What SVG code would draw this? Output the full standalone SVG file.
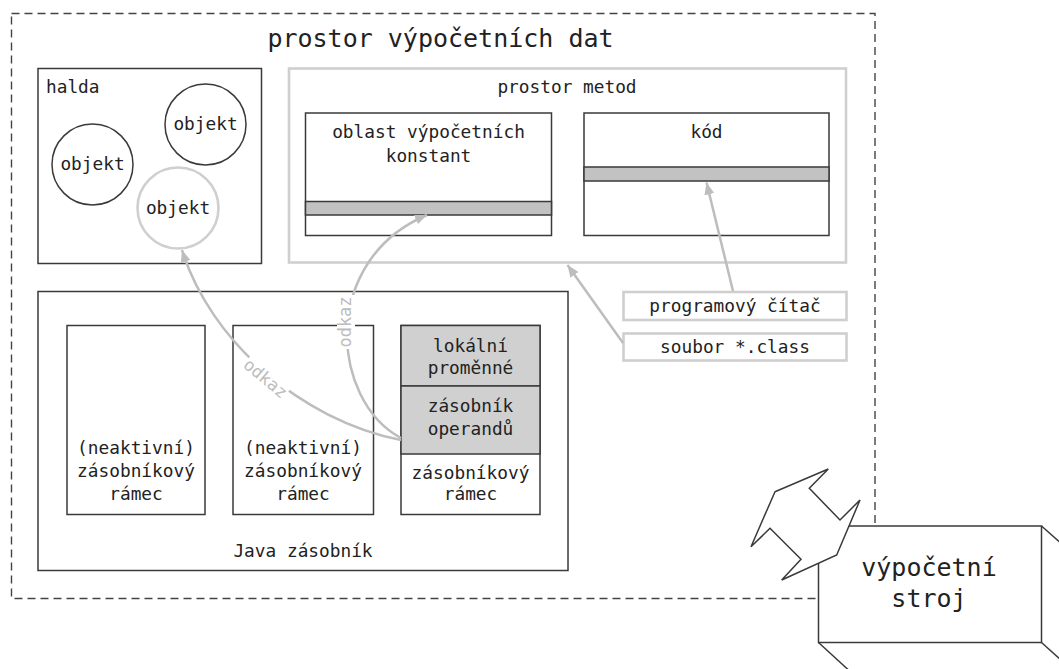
<svg xmlns="http://www.w3.org/2000/svg" width="1059" height="669" viewBox="0 0 1059 669">
<defs>
<style>
.t{font-family:"DejaVu Sans Mono","Liberation Mono",monospace;font-size:17.8px;fill:#222;text-anchor:middle}
.big{font-size:25px}
.blk{fill:#fff;stroke:#3a3a3a;stroke-width:1.5}
.gry{fill:#fff;stroke:#cfcfcf;stroke-width:2.6}
.band{fill:#c2c2c2;stroke:#3a3a3a;stroke-width:1.5}
.sec{fill:#d0d0d0;stroke:#3a3a3a;stroke-width:1.5}
.con{fill:none;stroke:#bdbdbd;stroke-width:2.5}
.lbl{font-family:"DejaVu Sans Mono","Liberation Mono",monospace;font-size:17px;fill:#bdbdbd;text-anchor:middle}
</style>
<marker id="ah" markerUnits="userSpaceOnUse" markerWidth="14" markerHeight="12" refX="12" refY="5" orient="auto">
<path d="M0,0 L12,5 L0,10 Z" fill="#bdbdbd"/>
</marker>
</defs>
<g id="datovy-prostor">
<rect x="11.5" y="13.5" width="863.5" height="585" fill="none" stroke="#444" stroke-width="1.4" stroke-dasharray="8,5"/>
<text class="t big" x="440.5" y="47">prostor výpočetních dat</text>
</g>
<g id="halda">
<rect class="blk" x="38" y="68.5" width="223.5" height="195"/>
<text class="t" x="46" y="93" style="text-anchor:start">halda</text>
</g>
<g id="objekt1">
<circle class="blk" cx="205.5" cy="124.5" r="40.5"/>
<text class="t" x="205.5" y="130">objekt</text>
</g>
<g id="objekt2">
<circle class="blk" cx="92.5" cy="164.5" r="40.5"/>
<text class="t" x="92.5" y="170">objekt</text>
</g>
<g id="objekt3">
<circle class="gry" cx="178" cy="208" r="40.5"/>
<text class="t" x="178" y="213.5">objekt</text>
</g>
<g id="prostor-metod">
<rect class="gry" x="289" y="68.5" width="557" height="194"/>
<text class="t" x="567" y="93">prostor metod</text>
</g>
<g id="oblast-konstant">
<rect class="blk" x="305.5" y="113" width="246" height="122.5"/>
<rect class="band" x="305.5" y="201.5" width="246" height="13.5"/>
<text class="t" x="428.5" y="138">oblast výpočetních</text>
<text class="t" x="428.5" y="161.5">konstant</text>
</g>
<g id="kod">
<rect class="blk" x="584" y="113" width="245" height="122.5"/>
<rect class="band" x="584" y="167" width="245" height="14"/>
<text class="t" x="706.5" y="138">kód</text>
</g>
<g id="java-zasobnik">
<rect class="blk" x="38" y="291.5" width="530" height="279"/>
<text class="t" x="303" y="556.5">Java zásobník</text>
</g>
<g id="ramec1">
<rect class="blk" x="67" y="325.5" width="138" height="189"/>
<text class="t" x="136" y="453.5">(neaktivní)</text>
<text class="t" x="136" y="477">zásobníkový</text>
<text class="t" x="136" y="500">rámec</text>
</g>
<g id="ramec2">
<rect class="blk" x="233" y="325.5" width="140.5" height="189"/>
<text class="t" x="303" y="453.5">(neaktivní)</text>
<text class="t" x="303" y="477">zásobníkový</text>
<text class="t" x="303" y="500">rámec</text>
</g>
<g id="ramec3">
<rect class="blk" x="401" y="325.5" width="139" height="189"/>
<rect class="sec" x="401" y="325.5" width="139" height="60.5"/>
<rect class="sec" x="401" y="386" width="139" height="68"/>
<text class="t" x="470.5" y="351.5">lokální</text>
<text class="t" x="470.5" y="373.5">proměnné</text>
<text class="t" x="470.5" y="411.5">zásobník</text>
<text class="t" x="470.5" y="434.5">operandů</text>
<text class="t" x="470.5" y="478.5">zásobníkový</text>
<text class="t" x="470.5" y="500">rámec</text>
</g>
<g id="programovy-citac">
<rect class="gry" x="623.5" y="292" width="223" height="28"/>
<text class="t" x="735" y="312">programový čítač</text>
</g>
<g id="soubor-class">
<rect class="gry" x="623.5" y="333.5" width="223" height="27"/>
<text class="t" x="735" y="353">soubor *.class</text>
</g>
<g id="spojnice">
<path class="con" d="M401,440 C300,420 210,340 182,250" marker-end="url(#ah)"/>
<path class="con" d="M401,438 C330,400 320,260 427,215" marker-end="url(#ah)"/>
<path class="con" d="M733,291 L706.5,182.5" marker-end="url(#ah)"/>
<path class="con" d="M623,343 L567.5,265" marker-end="url(#ah)"/>
<g transform="translate(265,379) rotate(40)">
<rect x="-26" y="-9" width="52" height="18" fill="#fff"/>
<text class="lbl" x="0" y="5">odkaz</text>
</g>
<g transform="translate(346,322) rotate(-90)">
<rect x="-27" y="-9" width="54" height="18" fill="#fff"/>
<text class="lbl" x="0" y="5">odkaz</text>
</g>
</g>
<g id="vypocetni-stroj">
<rect class="blk" x="818.5" y="526" width="223" height="116.5"/>
<line x1="1041.5" y1="526" x2="1080" y2="560" stroke="#3a3a3a" stroke-width="1.5"/>
<line x1="1041.5" y1="642.5" x2="1080" y2="677" stroke="#3a3a3a" stroke-width="1.5"/>
<line x1="818.5" y1="642.5" x2="848" y2="669.5" stroke="#3a3a3a" stroke-width="1.5"/>
<polygon class="blk" points="775,491.7 828.3,469 809.3,488.3 840,520 860,500 836.7,555 781.7,580 801,559.3 770,528.3 751,546.7"/>
<text class="t big" x="929" y="576">výpočetní</text>
<text class="t big" x="929" y="607">stroj</text>
</g>
</svg>
